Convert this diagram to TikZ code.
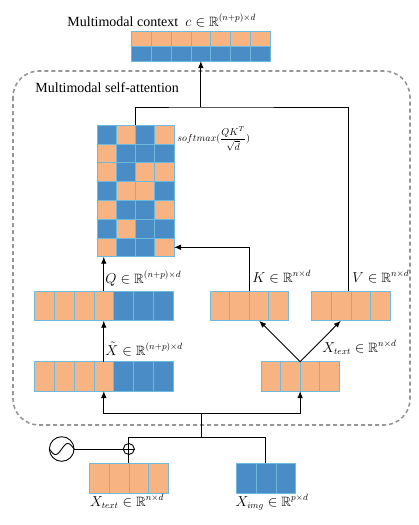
\documentclass[tikz,border=0pt]{standalone}
\usepackage{amsmath,amssymb}
\usepackage{fontspec}
\setmainfont{Liberation Serif}
\usetikzlibrary{arrows.meta}
\definecolor{org}{RGB}{248,179,131}
\definecolor{blu}{RGB}{74,141,198}
\definecolor{edg}{RGB}{110,185,222}
\definecolor{dsh}{RGB}{150,150,150}
\begin{document}
\begin{tikzpicture}[x=1pt,y=-1pt,
  line width=0.9pt,
  arr/.style={-{Latex[length=7pt,width=5.5pt]}},
  barbox/.style={inner sep=0pt, outer sep=0pt, draw=none},
  cellc/.style={draw=edg, line width=0.6pt},
  txt/.style={inner sep=0pt, font=\fontsize{14}{16}\selectfont},
  mth/.style={inner sep=0pt, font=\fontsize{13.5}{15}\selectfont},
]
\useasboundingbox[fill=white] (0,0) rectangle (419,525);

% dashed container
\draw[dsh, dashed, line width=1.6pt, dash pattern=on 4pt off 3pt, rounded corners=26pt] (13,71) rectangle (410,425);
\node[txt, anchor=base west] (sa) at (35,92) {Multimodal self-attention};

% context bar
\node[barbox, minimum width=138.3pt, minimum height=29.3pt] (ctx) at (200.85,46.35) {};
\foreach \i in {0,...,6} {
  \path[cellc, fill=org] (131.7+\i*19.757,31.7) rectangle ++(19.757,14.65);
  \path[cellc, fill=blu] (131.7+\i*19.757,46.35) rectangle ++(19.757,14.65);
}
\node[txt, anchor=base west] (ctxl) at (67,26) {Multimodal context};
\node[mth, anchor=base west] (ctxm) at (185,26) {$c \in \mathbb{R}^{(n+p)\times d}$};

% attention matrix
\node[barbox, minimum width=77pt, minimum height=131.7pt] (att) at (135.5,190.85) {};
\foreach \row [count=\r from 0] in {
  {blu,org,blu,org},{org,blu,blu,blu},{org,blu,org,org},{blu,org,org,blu},
  {org,blu,blu,org},{blu,org,blu,blu},{org,blu,blu,org}} {
  \foreach \c [count=\k from 0] in \row {
    \path[cellc, fill=\c] (97+\k*19.25,125+\r*18.814) rectangle ++(19.25,18.814);
  }
}
\node[inner sep=0pt, anchor=west, font=\fontsize{10}{12}\selectfont] (smx) at (177,139)
  {$\displaystyle softmax(\frac{QK^T}{\sqrt{d}})$};

% Q bar
\node[barbox, minimum width=139pt, minimum height=29.7pt] (Q) at (103.8,305.85) {};
\foreach \c [count=\k from 0] in {org,org,org,org,blu,blu,blu}
  \path[cellc, fill=\c] (34.3+\k*19.857,291) rectangle ++(19.857,29.7);
\node[mth, anchor=base west] (ql) at (105,283) {$Q \in \mathbb{R}^{(n+p)\times d}$};

% K bar
\node[barbox, minimum width=78.3pt, minimum height=29.7pt] (K) at (249.15,305.85) {};
\foreach \k in {0,...,3}
  \path[cellc, fill=org] (210+\k*19.575,291) rectangle ++(19.575,29.7);
\node[mth, anchor=base west] (kl) at (252,282) {$K \in \mathbb{R}^{n\times d}$};

% V bar
\node[barbox, minimum width=78.3pt, minimum height=29.7pt] (V) at (350.85,305.85) {};
\foreach \k in {0,...,3}
  \path[cellc, fill=org] (311.7+\k*19.575,291) rectangle ++(19.575,29.7);
\node[mth, anchor=base west] (vl) at (352,282) {$V \in \mathbb{R}^{n\times d}$};

% X tilde bar
\node[barbox, minimum width=139pt, minimum height=29.3pt] (xtl) at (103.8,376.35) {};
\foreach \c [count=\k from 0] in {org,org,org,org,blu,blu,blu}
  \path[cellc, fill=\c] (34.3+\k*19.857,361.7) rectangle ++(19.857,29.3);
\node[mth, anchor=base west] (xtll) at (105,355) {$\tilde{X} \in \mathbb{R}^{(n+p)\times d}$};

% X text inner bar
\node[barbox, minimum width=78.3pt, minimum height=29.3pt] (xti) at (300.15,376.35) {};
\foreach \k in {0,...,3}
  \path[cellc, fill=org] (261+\k*19.575,361.7) rectangle ++(19.575,29.3);
\node[mth, anchor=base west] (xtil) at (322,352) {$X_{text} \in \mathbb{R}^{n\times d}$};

% bottom X text bar
\node[barbox, minimum width=79pt, minimum height=30pt] (xtb) at (128.8,478.3) {};
\foreach \k in {0,...,3}
  \path[cellc, fill=org] (89.3+\k*19.75,463.3) rectangle ++(19.75,30);
\node[mth, anchor=base] (xtbl) at (127,506) {$X_{text} \in \mathbb{R}^{n\times d}$};

% X img bar
\node[barbox, minimum width=59.7pt, minimum height=30pt] (xim) at (265.85,478.3) {};
\foreach \k in {0,...,2}
  \path[cellc, fill=blu] (236+\k*19.9,463.3) rectangle ++(19.9,30);
\node[mth, anchor=base] (ximl) at (272,506) {$X_{img} \in \mathbb{R}^{p\times d}$};

% positional source and oplus
\node[circle, draw, minimum size=24.6pt, inner sep=0pt] (src) at (61.7,449) {};
\draw[line width=0.9pt, domain=-1:1, samples=50, smooth]
  plot ({61.7+12.3*\x},{449-5.5*sin(180*\x)});
\node[circle, draw, minimum size=11pt, inner sep=0pt, fill=white] (plus) at (128.8,449) {};
\draw[line width=0.7pt] (plus.north) -- (plus.south) (plus.west) -- (plus.east);

% connectors
\coordinate (j1) at (200.85,107);
\coordinate (xq) at (103.8,0);
\coordinate (j2) at (201.7,437.7);
\coordinate (j3) at (201.7,413.3);

\draw (att.north) |- (j1) -| ([xshift=-2.5pt]V.north);
\draw[arr] (j1) -- (ctx.south);
\draw[arr] (Q.north -| xq) -- (att.south -| xq);
\draw[arr] (xtl.north -| xq) -- (Q.south -| xq);
\draw[arr] (K.north) |- ([yshift=9.4pt]att.south east);
\draw[arr] (xti.north) -- ([xshift=10pt]K.south);
\draw[arr] (xti.north) -- ([xshift=-10pt]V.south);
\draw[arr] (j3) -| (xtl.south -| xq);
\draw[arr] (j3) -| (xti.south);
\draw (j2) -- (j3);
\draw (plus.north) |- (j2) -| (xim.north);
\draw (plus.south) -- (xtb.north);
\draw (src.east) -- (plus.west);
\end{tikzpicture}
\end{document}
